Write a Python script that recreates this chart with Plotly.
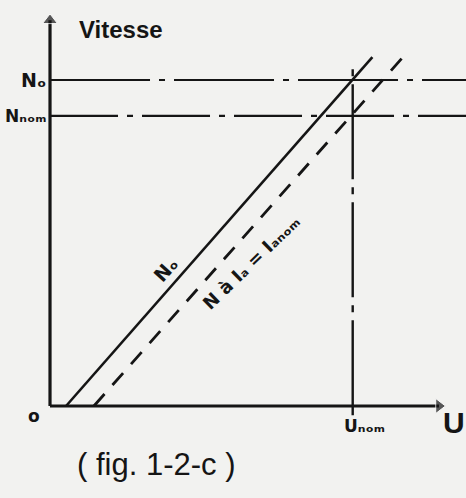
import plotly.graph_objects as go

# Speed / armature-voltage characteristics of a DC motor
# U in % of the rated voltage, N in % of the no-load speed N0
U_NOM = 100.0
N_0 = 100.0
N_NOM = 89.0

# no-load characteristic N0(U)
no_load_u = [5.3, 106.5]
no_load_n = [0.0, 107.0]

# characteristic at rated armature current (Ia = Ianom)
rated_u = [14.5, 118.5]
rated_n = [0.0, 109.0]

# construction lines
level_u = [0.0, 140.0]
unom_n = [-2.8, 105.6]

# arrow ends of the two axes
u_axis_end = 128.5
n_axis_end = 118.3

# texts (subscripts written with Unicode subscript letters)
y_title = "Vitesse"
x_title = "U"
n0_label = "Nₒ"
nnom_label = "Nₙₒₘ"
unom_label = "Uₙₒₘ"
origin_label = "o"
curve0_label = "Nₒ"
curve1_label = "N à Iₐ = Iₐₙₒₘ"
caption = "( fig. 1-2-c )"

INK = "#151515"
PAPER = "#f2f2f0"
HAND = "DejaVu Sans, Liberation Sans, sans-serif"
CAPTION_FONT = "Liberation Sans, Arial, sans-serif"

fig = go.Figure()

# horizontal speed levels (dash-dot)
fig.add_trace(go.Scatter(x=level_u, y=[N_0, N_0], mode="lines",
                         line=dict(color=INK, width=2.2, dash="100px,9px,6px,9px"),
                         hoverinfo="skip"))
fig.add_trace(go.Scatter(x=level_u, y=[N_NOM, N_NOM], mode="lines",
                         line=dict(color=INK, width=2.2, dash="68px,9px,6px,9px"),
                         hoverinfo="skip"))
# rated voltage (dash-dot vertical)
fig.add_trace(go.Scatter(x=[U_NOM, U_NOM], y=unom_n, mode="lines",
                         line=dict(color=INK, width=2.4, dash="95px,8px,7px,8px"),
                         hoverinfo="skip"))
# characteristics
fig.add_trace(go.Scatter(x=no_load_u, y=no_load_n, mode="lines",
                         line=dict(color=INK, width=2.6), hoverinfo="skip"))
fig.add_trace(go.Scatter(x=rated_u, y=rated_n, mode="lines",
                         line=dict(color=INK, width=2.8, dash="16px,12px"),
                         hoverinfo="skip"))

# axes, each ending in an arrow head
fig.add_trace(go.Scatter(x=[0.0, u_axis_end], y=[0.0, 0.0], mode="lines+markers",
                         line=dict(color=INK, width=3.2),
                         marker=dict(symbol=["circle", "triangle-right"], size=[0, 13],
                                     color=INK),
                         hoverinfo="skip"))
fig.add_trace(go.Scatter(x=[0.0, 0.0], y=[0.0, n_axis_end], mode="lines+markers",
                         line=dict(color=INK, width=3.2),
                         marker=dict(symbol=["circle", "triangle-up"], size=[0, 13],
                                     color=INK),
                         hoverinfo="skip"))

annotations = []


def label(x, y, text, size, family=HAND, **kw):
    d = dict(x=x, y=y, xref="x", yref="y", text=text, showarrow=False,
             font=dict(family=family, size=size, color=INK))
    d.update(kw)
    annotations.append(d)


label(23.5, 115.5, f"<b>{y_title}</b>", 24, family=CAPTION_FONT)
label(0, N_0, f"<b>{n0_label}</b>", 19, xanchor="right", xshift=-2)
label(0, N_NOM, f"<b>{nnom_label}</b>", 17, xanchor="right", xshift=-1)
label(103.8, -6.1, f"<b>{unom_label}</b>", 17)
label(133.6, -5.2, f"<b>{x_title}</b>", 30, family=CAPTION_FONT)
label(-5.3, -3.2, f"<b>{origin_label}</b>", 17)
label(38.3, 42.0, f"<b>{curve0_label}</b>", 19, textangle=-48)
label(66.3, 44.1, f"<b>{curve1_label}</b>", 18, textangle=-44)
label(35.0, -17.8, caption, 31, family=CAPTION_FONT)

fig.update_layout(
    width=466, height=498,
    margin=dict(l=0, r=0, t=0, b=0),
    paper_bgcolor=PAPER, plot_bgcolor=PAPER,
    showlegend=False,
    annotations=annotations,
    xaxis=dict(range=[-16.52, 137.43], visible=False, fixedrange=True),
    yaxis=dict(range=[-28.22, 124.54], visible=False, fixedrange=True),
)

fig.write_html("out.html")
